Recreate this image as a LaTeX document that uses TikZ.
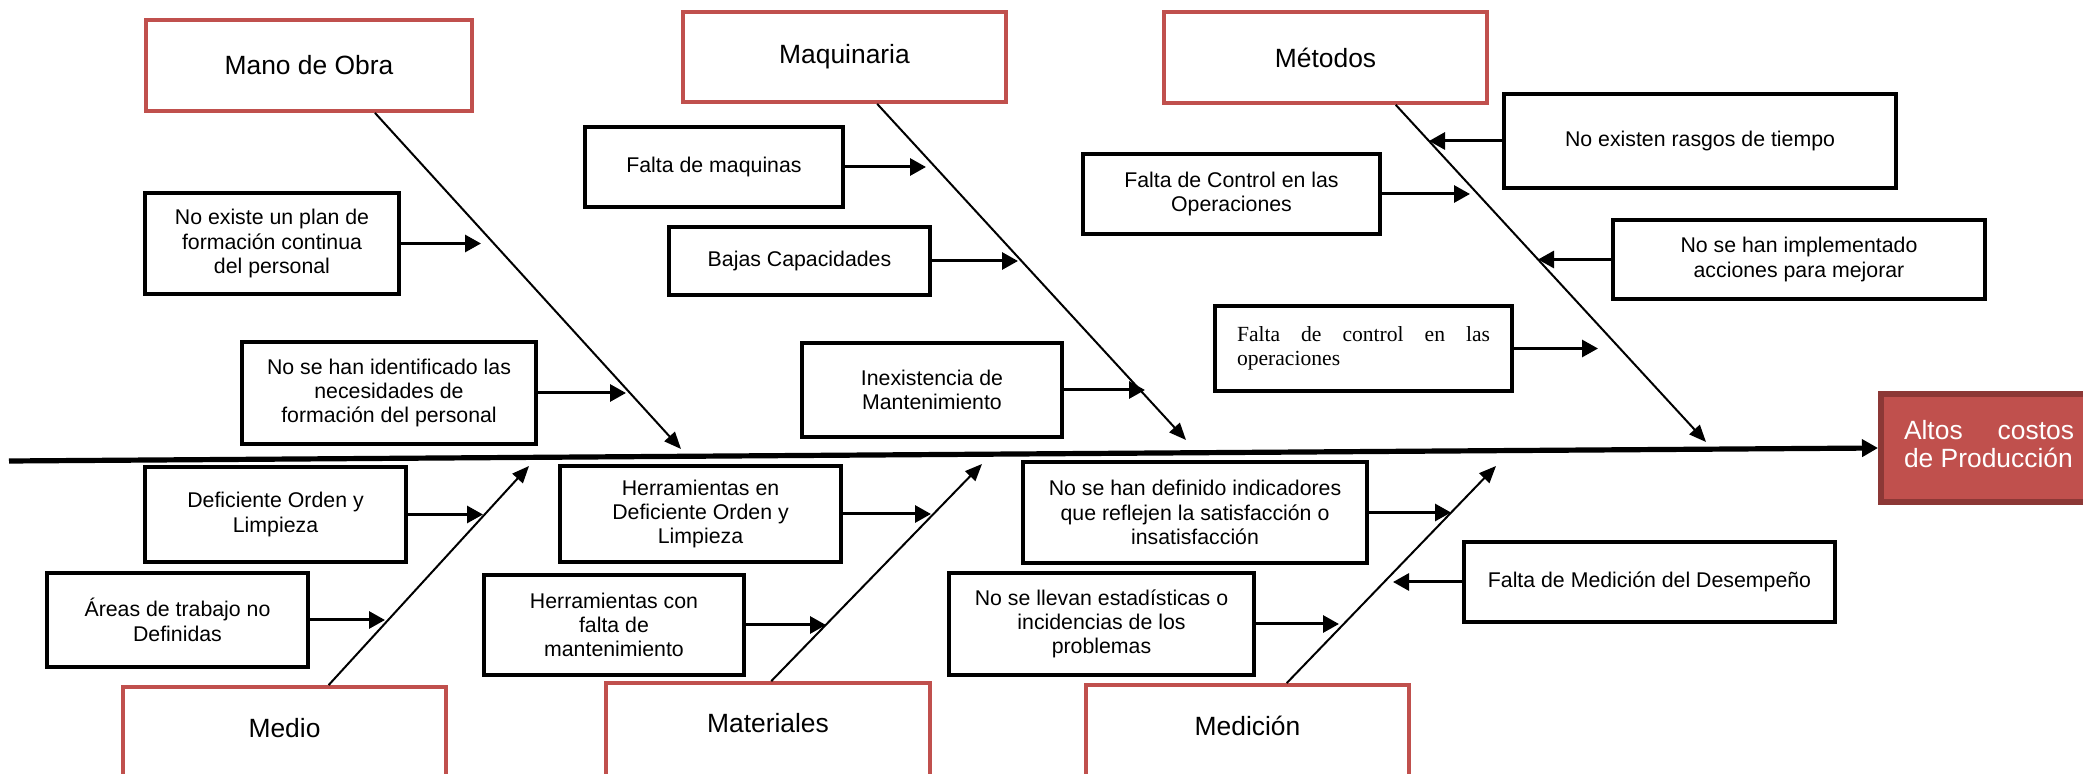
\documentclass[tikz,border=0pt]{standalone}
\usepackage{fontspec}
\setmainfont{Liberation Sans}
\newfontfamily\serifbox{Liberation Serif}
\usetikzlibrary{arrows.meta,calc}
\definecolor{catred}{HTML}{C0504D}
\definecolor{effborder}{HTML}{8C3836}

\begin{document}
\begin{tikzpicture}[x=0.5pt,y=-0.5pt,
  sz/.style 2 args={minimum width=#1*0.5pt, minimum height=#2*0.5pt},
  catbox/.style={draw=catred, line width=1.9pt, fill=white, inner sep=0pt,
    font=\fontsize{13.2}{15}\selectfont},
  lowcat/.style={catbox, text height=9.5pt, text depth=9.5pt},
  causebox/.style={draw=black, line width=2.4pt, fill=white, inner sep=0pt,
    align=center, font=\fontsize{10.65}{12.15}\selectfont},
  effbox/.style={draw=effborder, fill=catred, line width=3pt, inner sep=0pt},
  efftext/.style={inner sep=0pt, text=white, font=\fontsize{13.2}{14}\selectfont},
  bone/.style={line width=1pt, -{Triangle[length=8.5pt,width=7pt]}},
  conn/.style={line width=1.5pt, -{Triangle[length=8pt,width=8.5pt]}},
  spine/.style={line width=2.6pt, -{Triangle[length=8pt,width=8.5pt]}},
]
\useasboundingbox (0,0) rectangle (2083,774);
\clip (0,0) rectangle (2083,774);

% effect
\node[effbox, sz={219}{108}] (eff) at (1990.5,448) {};
\node[efftext] (efflabel) at (1989,444)
  {\parbox{85pt}{Altos\hfill costos\\de Producción}};

% category boxes
\node[catbox, sz={326}{91}] (mano) at (309,65.5) {Mano de Obra};
\node[catbox, sz={323}{90}] (maq)  at (844.5,57) {Maquinaria};
\node[catbox, sz={323}{91}] (met)  at (1325.5,57.5) {Métodos};
\node[lowcat, sz={323}{100}] (medio) at (284.5,737) {Medio};
\node[lowcat, sz={324}{100}] (mat)  at (768,733) {Materiales};
\node[lowcat, sz={323}{100}] (medc) at (1247.5,735) {Medición};

% cause boxes, upper side
\node[causebox, sz={254}{101}] (a) at (272,243.5) {No existe un plan de\\formación continua\\del personal};
\node[causebox, sz={294}{102}] (b) at (389,393) {No se han identificado las\\necesidades de\\formación del personal};
\node[causebox, sz={258}{80}]  (c) at (714,167) {Falta de maquinas};
\node[causebox, sz={261}{68}]  (d) at (799.5,261) {Bajas Capacidades};
\node[causebox, sz={260}{94}]  (e) at (932,390) {Inexistencia de\\Mantenimiento};
\node[causebox, sz={297}{80}]  (f) at (1231.5,194) {Falta de Control en las\\Operaciones};
\node[causebox, sz={392}{94}]  (g) at (1700,141) {No existen rasgos de tiempo};
\node[causebox, sz={372}{79}]  (h) at (1799,259.5) {No se han implementado\\acciones para mejorar};
\node[causebox, sz={297}{85}]  (i) at (1363.5,348.5)
  {\parbox{126.5pt}{\serifbox\fontsize{10.8}{12}\selectfont
   Falta\hfill de\hfill control\hfill en\hfill las\\operaciones}};

% cause boxes, lower side
\node[causebox, sz={261}{95}]  (j) at (275.5,514.5) {Deficiente Orden y\\Limpieza};
\node[causebox, sz={261}{94}]  (k) at (177.5,620) {Áreas de trabajo no\\Definidas};
\node[causebox, sz={281}{96}]  (l) at (700.5,514) {Herramientas en\\Deficiente Orden y\\Limpieza};
\node[causebox, sz={260}{100}] (m) at (614,625) {Herramientas con\\falta de\\mantenimiento};
\node[causebox, sz={344}{101}] (n) at (1195,512.5) {No se han definido indicadores\\que reflejen la satisfacción o\\insatisfacción};
\node[causebox, sz={305}{102}] (o) at (1101.5,624) {No se llevan estadísticas o\\incidencias de los\\problemas};
\node[causebox, sz={371}{80}]  (p) at (1649.5,582) {Falta de Medición del Desempeño};

% spine
\coordinate (tail) at (9,461);
\draw[spine] (tail) -- (eff.west);

% bone tips
\coordinate (tMano) at (681,449);
\coordinate (tMaq)  at (1186,440);
\coordinate (tMet)  at (1706,442);
\coordinate (tMedio) at (529,466);
\coordinate (tMat)  at (982,464);
\coordinate (tMedc) at (1496,466);

\draw[bone] ($(mano.south west)!0.70!(mano.south east)$) -- (tMano);
\draw[bone] ($(maq.south west)!0.60!(maq.south east)$) -- (tMaq);
\draw[bone] ($(met.south west)!0.715!(met.south east)$) -- (tMet);
\draw[bone] ($(medio.north west)!0.635!(medio.north east)$) -- (tMedio);
\draw[bone] ($(mat.north west)!0.51!(mat.north east)$) -- (tMat);
\draw[bone] ($(medc.north west)!0.62!(medc.north east)$) -- (tMedc);

% cause arrow tips
\coordinate (ta) at (481,243.5);
\coordinate (tb) at (626,393);
\coordinate (tc) at (926,167);
\coordinate (td) at (1018,261);
\coordinate (te) at (1145,390);
\coordinate (tf) at (1470,194);
\coordinate (tg) at (1429,141);
\coordinate (th) at (1538,259.5);
\coordinate (ti) at (1598,348.5);
\coordinate (tj) at (483,514.5);
\coordinate (tk) at (385,620);
\coordinate (tl) at (931,514);
\coordinate (tm) at (826,625);
\coordinate (tn) at (1451,512.5);
\coordinate (to) at (1339,624);
\coordinate (tp) at (1393,582);

\foreach \s in {a,b,c,d,e,f,g,h,i,j,k,l,m,n,o,p}
  \draw[conn] (\s) -- (t\s);
\end{tikzpicture}
\end{document}
